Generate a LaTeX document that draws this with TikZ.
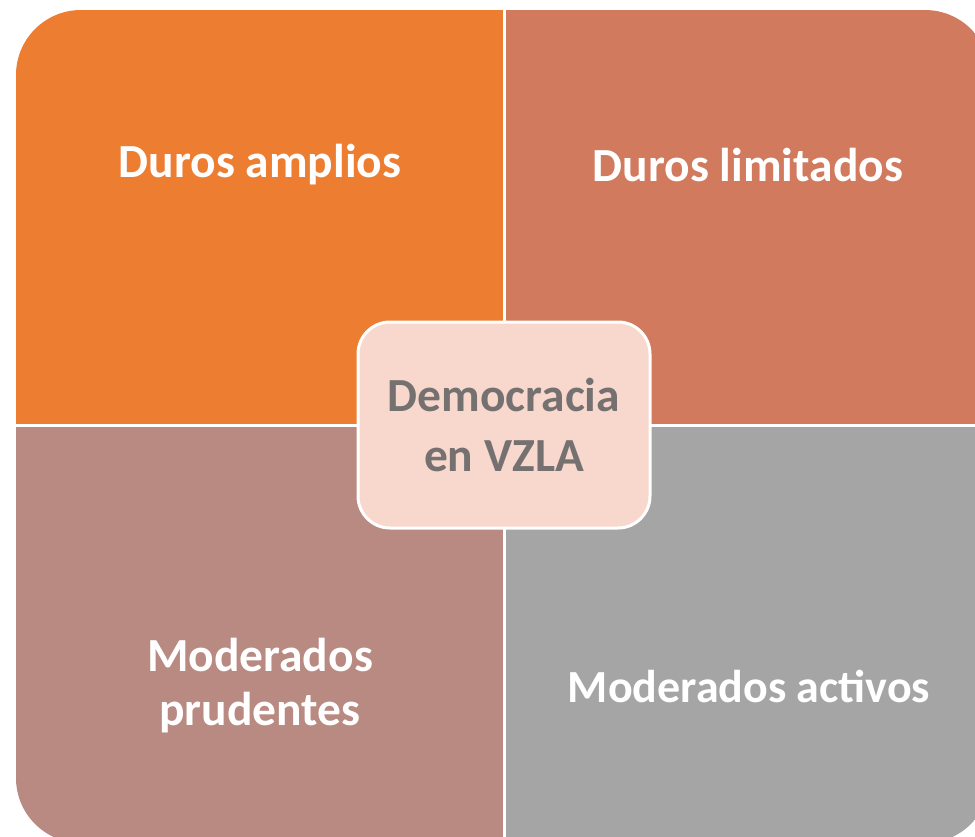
\documentclass[tikz,border=0pt]{standalone}
\usepackage{fontspec}
\setmainfont{Carlito}
\definecolor{naranja}{HTML}{ED7D31}
\definecolor{teja}{HTML}{D17A5D}
\definecolor{malva}{HTML}{B98A81}
\definecolor{grisq}{HTML}{A5A5A5}
\definecolor{rosa}{HTML}{F8D8CD}
\definecolor{textog}{HTML}{767171}

\begin{document}
\begin{tikzpicture}[x=1pt, y=-1pt]
            \tikzstyle{every node}=[font = \fontsize{47.5}{54}\selectfont\bfseries, align = center]
            \tikzstyle{etiqueta}=[text = white]
            \tikzstyle{centro}=[rectangle, draw = white, line width = 3pt, fill = rosa, text = textog,
                minimum width = 292pt, minimum height = 206pt, rounded corners = 32pt,
                font = \fontsize{47.5}{60}\selectfont\bfseries]
            \clip (0,0) rectangle (975,836);
            \coordinate (esq1) at (16,10);
            \coordinate (esq2) at (990,843);
            \coordinate (medio) at (504,425);
            \begin{scope}
                \clip[rounded corners = 65] (esq1) rectangle (esq2);
                \fill[naranja] (esq1) rectangle (medio);
                \fill[teja] (504,10) rectangle (990,425);
                \fill[malva] (16,425) rectangle (504,843);
                \fill[grisq] (medio) rectangle (esq2);
            \end{scope}
            \draw[white, line width = 3pt] (504,0) -- (504,843);
            \draw[white, line width = 3pt] (16,425) -- (990,425);
            \node[etiqueta] (da) at (260,165) {Duros amplios};
            \node[etiqueta] (dl) at (748,165) {Duros limitados};
            \node[etiqueta] (mp) at (260,686) {Moderados\\prudentes};
            \node[etiqueta, font = \fontsize{46}{54}\selectfont\bfseries] (ma) at (749,686) {Moderados activos};
            \node[centro] (dem) at (medio) {Democracia\\en VZLA};
        \end{tikzpicture}
\end{document}
